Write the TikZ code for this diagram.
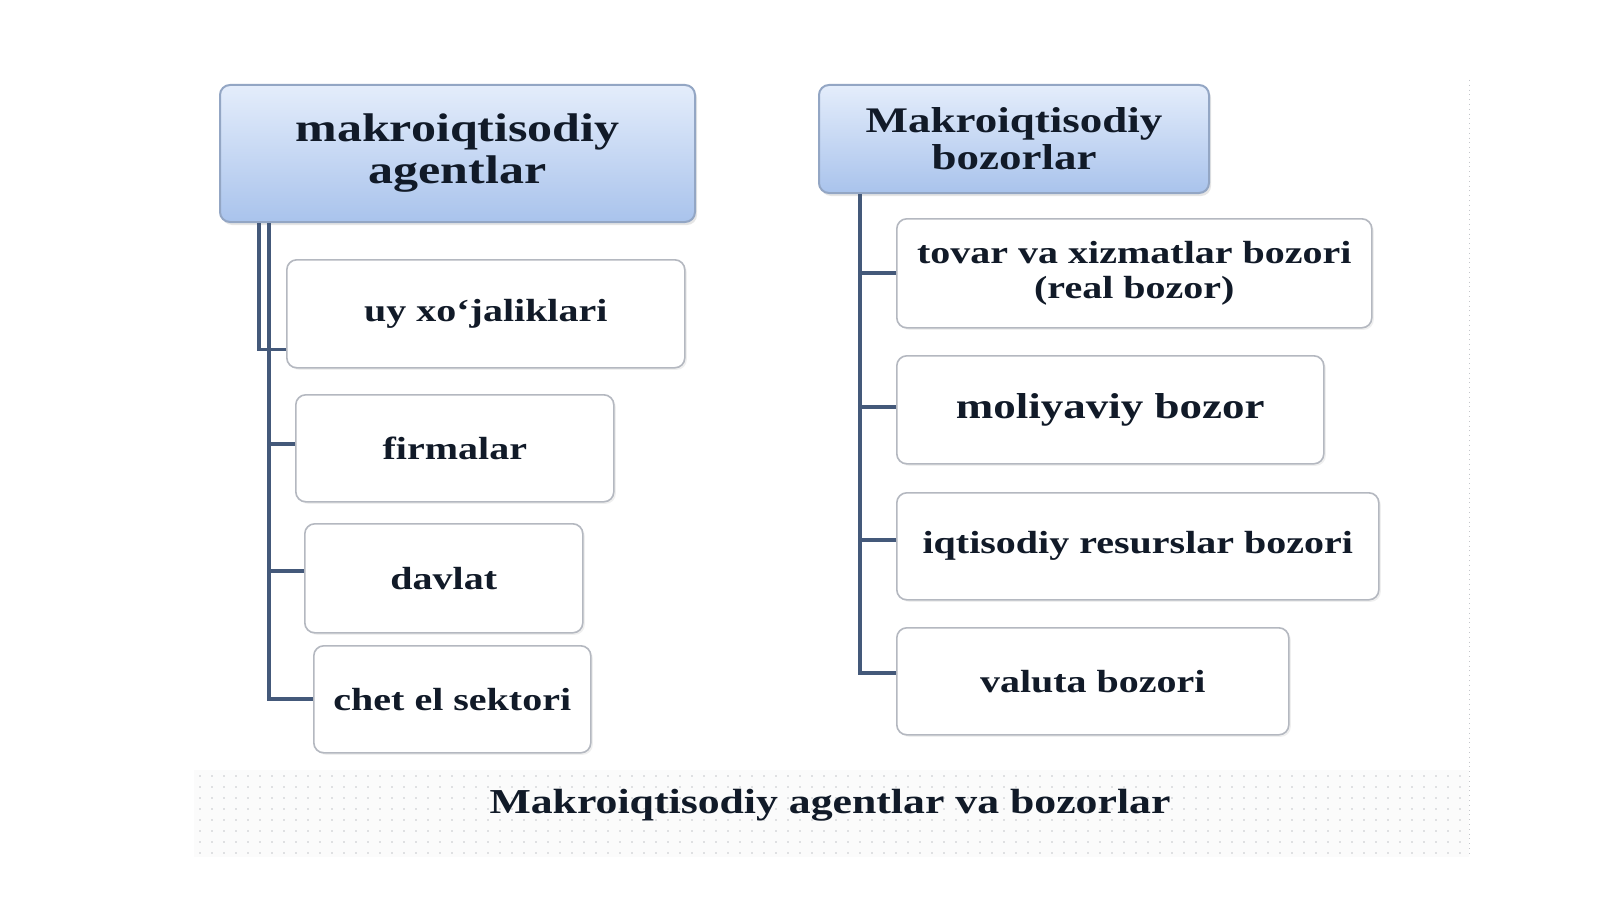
\documentclass[tikz,border=0pt]{standalone}
\usepackage{fontspec}
\setmainfont[FakeStretch=1.25]{Liberation Serif}
\usepackage{tikz}
\usetikzlibrary{shadows}
\definecolor{ink}{HTML}{111A28}
\definecolor{wire}{HTML}{44597A}
\definecolor{headtop}{HTML}{E4EDFB}
\definecolor{headbot}{HTML}{A9C3EC}
\definecolor{headline}{HTML}{93A6C4}
\definecolor{boxline}{HTML}{B4B8C0}
\definecolor{dotgray}{HTML}{C4C6CA}

\begin{document}
\begin{tikzpicture}[x=0.5pt, y=-0.5pt,
  head/.style = {draw=headline, line width=1pt, rounded corners=5pt, top color=headtop, bottom color=headbot, anchor=north west, align=center, inner sep=0pt, text=ink, font=\bfseries\fontsize{20}{21}\selectfont, drop shadow={opacity=0.2, shadow xshift=1pt, shadow yshift=-1.5pt}},
  item/.style = {draw=boxline, line width=0.8pt, rounded corners=5pt, fill=white, anchor=north west, align=center, inner sep=0pt, text=ink, font=\bfseries\fontsize{16}{17.3}\selectfont, drop shadow={opacity=0.12, shadow xshift=1pt, shadow yshift=-1pt}},
  link/.style = {draw=wire, line width=2pt}]
\useasboundingbox (0,0) rectangle (1600,899);
\fill[white] (0,0) rectangle (1600,899);
\fill[gray!3] (194,770) rectangle (1469,857);
\foreach \i in {0,...,105} \foreach \j in {0,...,7} \fill[dotgray] (200+12*\i, 776+11*\j) circle (0.45pt);
\draw[dotgray, dotted] (1469,80) -- (1469,857);

\node[head, minimum width=237.5pt, minimum height=68.5pt] (agents) at (219,84) {makroiqtisodiy\\agentlar};
\node[item, minimum width=199pt, minimum height=54pt] (house) at (286,259) {uy xo‘jaliklari};
\node[item, minimum width=159pt, minimum height=53.5pt] (firms) at (295,394) {firmalar};
\node[item, minimum width=139pt, minimum height=54.5pt] (gov) at (304,523) {davlat};
\node[item, minimum width=138.5pt, minimum height=53.5pt] (abroad) at (313,645) {chet el sektori};

\node[head, font=\bfseries\fontsize{18}{18.5}\selectfont, minimum width=195pt, minimum height=54pt] (markets) at (818,84) {Makroiqtisodiy\\bozorlar};
\node[item, minimum width=237.5pt, minimum height=54.5pt] (goods) at (896,218) {tovar va xizmatlar bozori\\(real bozor)};
\node[item, font=\bfseries\fontsize{18}{20}\selectfont, minimum width=213.5pt, minimum height=54pt] (finance) at (896,355) {moliyaviy bozor};
\node[item, minimum width=241pt, minimum height=53.5pt] (resources) at (896,492) {iqtisodiy resurslar bozori};
\node[item, minimum width=196pt, minimum height=53.5pt] (currency) at (896,627) {valuta bozori};

\node[text=ink, font=\bfseries\fontsize{17.5}{20}\selectfont] (caption) at (830,805) {Makroiqtisodiy agentlar va bozorlar};

\coordinate (trunkA) at ([xshift=20pt]agents.south west);
\coordinate (trunkB) at ([xshift=25pt]agents.south west);
\coordinate (trunkC) at ([xshift=21pt]markets.south west);
\draw[link, line width=1.6pt] (trunkA) |- ([yshift=-18pt]house.west);
\draw[link] (trunkB) |- (abroad.west);
\draw[link] ([yshift=2pt]firms.west) -- ([yshift=2pt]firms.west -| trunkB);
\draw[link] ([yshift=3.5pt]gov.west) -- ([yshift=3.5pt]gov.west -| trunkB);

\draw[link] (trunkC) |- ([yshift=4pt]currency.west);
\draw[link] (goods.west) -- (goods.west -| trunkC);
\draw[link] ([yshift=1.5pt]finance.west) -- ([yshift=1.5pt]finance.west -| trunkC);
\draw[link] ([yshift=3pt]resources.west) -- ([yshift=3pt]resources.west -| trunkC);
\end{tikzpicture}
\end{document}
